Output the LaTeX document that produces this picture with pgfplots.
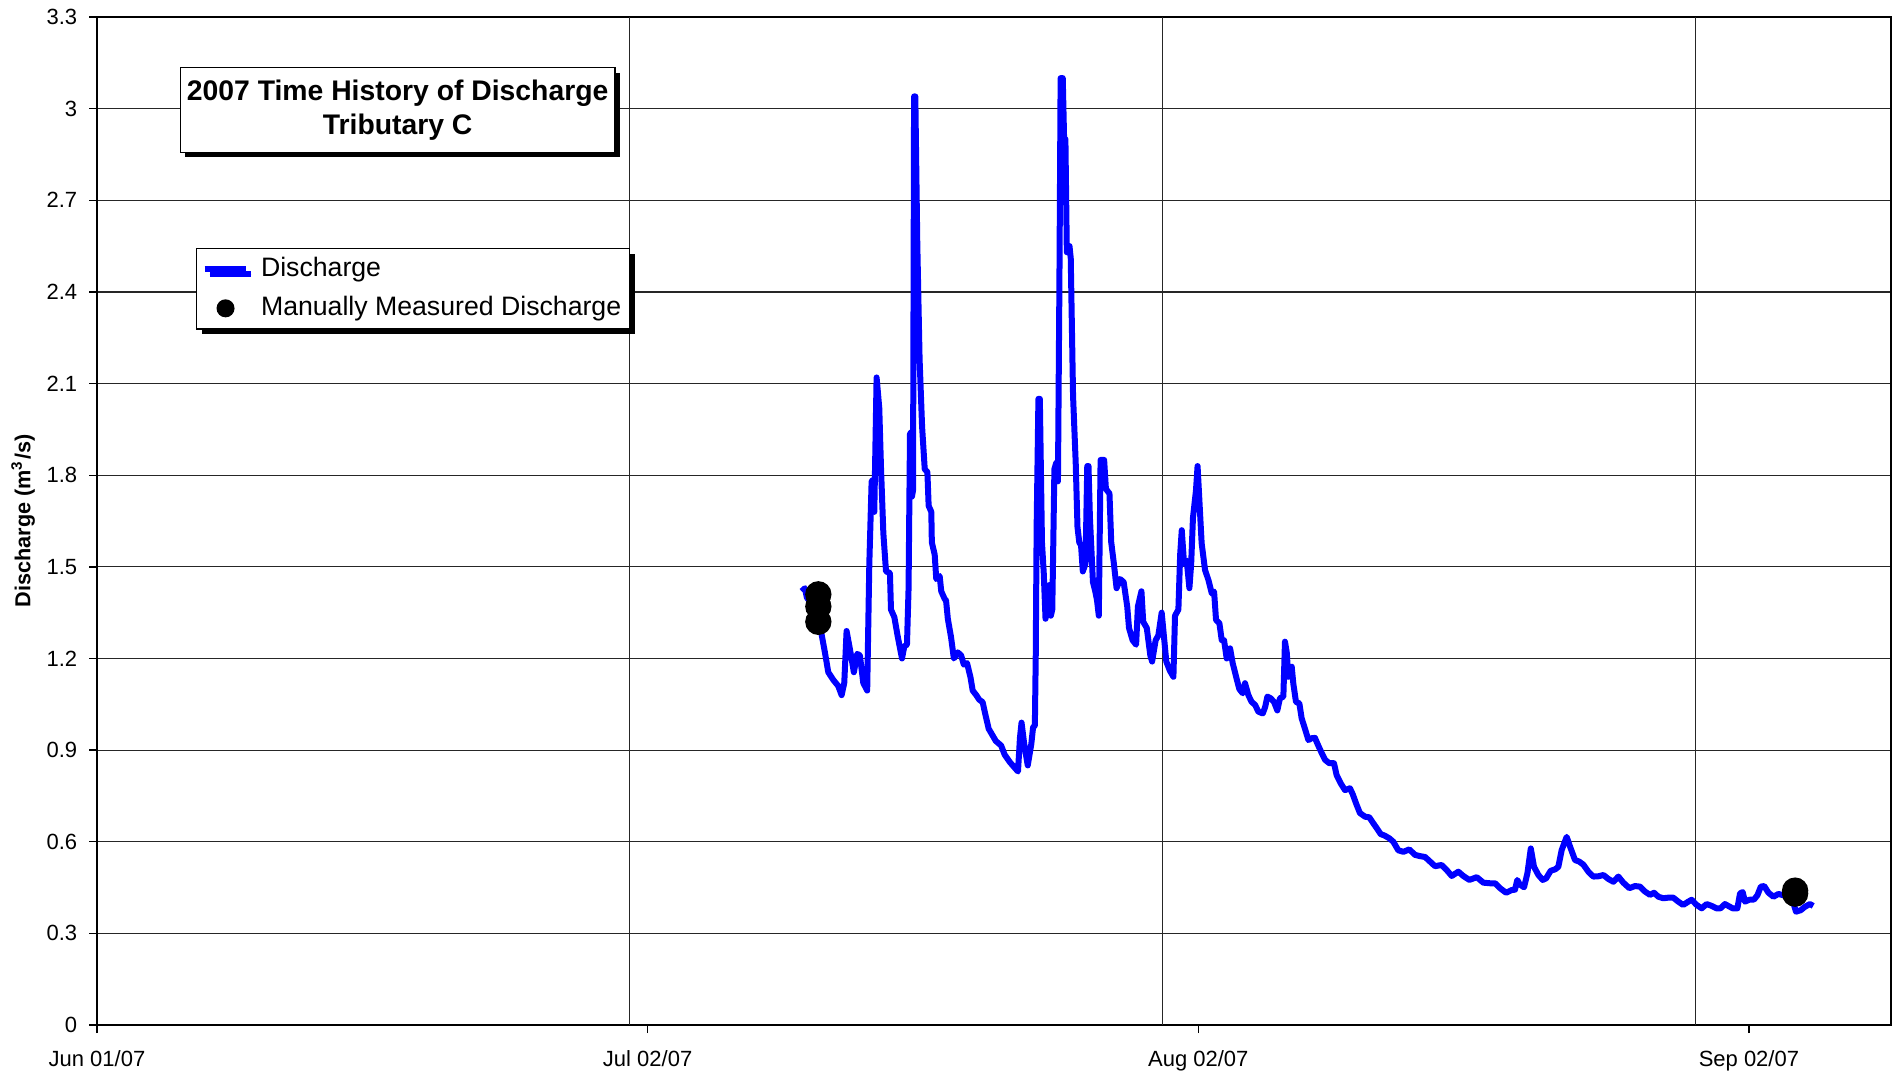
\documentclass[border=0pt]{standalone}
\usepackage{fontspec}
\setmainfont{Liberation Sans}
\usepackage{pgfplots}
\pgfplotsset{compat=1.18}
\usetikzlibrary{shadows}
\definecolor{dblue}{RGB}{0,0,255}
\pgfplotsset{
  lineleg/.style={legend image code/.code={\draw[##1] (0pt,0pt) -- (12.5pt,0pt); \path (15pt,0pt);}},
  dotleg/.style={legend image code/.code={\draw[mark repeat=2,mark phase=2,##1,mark size=2.5pt] plot coordinates {(0pt,0pt) (6.25pt,0pt) (12.5pt,0pt)}; \path (15pt,0pt);}},
}
\begin{document}
\begin{tikzpicture}
\begin{axis}[
  scale only axis, width=538.2pt, height=302.4pt,
  at={(0,0)}, anchor=south west,
  xmin=0, xmax=101, ymin=0, ymax=3.3,
  xtick={0,31,62,93},
  xticklabels={Jun 01/07, Jul 02/07, Aug 02/07, Sep 02/07},
  extra x ticks={30,60,90}, extra x tick labels={},
  extra x tick style={grid=major, major tick length=0pt},
  ytick={0,0.3,0.6,0.9,1.2,1.5,1.8,2.1,2.4,2.7,3,3.3},
  ymajorgrids,
  xtick pos=lower, ytick pos=left,
  tick align=outside, major tick length=2.4pt,
  grid style={black!85, line width=0.35pt},
  axis line style={black, line width=0.5pt},
  tick style={black, line width=0.4pt},
  tick label style={font=\fontsize{6.6}{7.9}\selectfont},
  xticklabel style={yshift=-1.6pt},
  /pgf/number format/assume math mode=true,
  ylabel={Discharge (m\textsuperscript{3}/s)},
  ylabel style={font=\bfseries\fontsize{6.5}{7.8}\selectfont, at={(axis description cs:-0.0412,0.5)}, anchor=center},
  legend style={at={(axis description cs:0.0552,0.771)}, anchor=north west,
    draw=black, fill=white, line width=0.4pt, font=\fontsize{8}{9.6}\selectfont,
    drop shadow={shadow xshift=1.5pt, shadow yshift=-1.5pt, fill=black, opacity=1},
    inner xsep=1.5pt, inner ysep=1.5pt, row sep=2.5pt,
    nodes={inner sep=1pt}},
  legend cell align=left,
]
\addplot[dblue, line width=1.8pt, line join=round, lineleg]
coordinates {
(39.67,1.42) (39.86,1.43) (39.96,1.40) (40.2,1.38) (40.5,1.35) (40.79,1.28) (40.98,1.22)
(41.17,1.155) (41.45,1.13) (41.73,1.11) (41.92,1.08) (42.07,1.12) (42.2,1.29) (42.39,1.23)
(42.61,1.155) (42.8,1.215) (42.95,1.21) (43.14,1.12) (43.36,1.095) (43.48,1.51) (43.61,1.78)
(43.7,1.785) (43.76,1.68) (43.89,2.12) (44.04,2.02) (44.14,1.82) (44.27,1.61) (44.42,1.485)
(44.64,1.48) (44.7,1.36) (44.89,1.335) (45.07,1.275) (45.32,1.20) (45.45,1.24) (45.6,1.245)
(45.69,1.43) (45.77,1.935) (45.83,1.94) (45.88,1.73) (45.94,1.75) (46.0,3.04) (46.07,3.04)
(46.18,2.56) (46.31,2.18) (46.45,1.96) (46.6,1.82) (46.75,1.81) (46.82,1.70) (46.97,1.68)
(47.0,1.58) (47.16,1.54) (47.25,1.46) (47.44,1.47) (47.53,1.42) (47.72,1.395) (47.8,1.39)
(47.9,1.33) (48.08,1.27) (48.24,1.20) (48.46,1.22) (48.65,1.21) (48.8,1.18) (48.98,1.185)
(49.17,1.14) (49.3,1.095) (49.5,1.08) (49.67,1.065) (49.86,1.057) (50.0,1.02) (50.2,0.97)
(50.4,0.95) (50.6,0.93) (50.9,0.915) (51.1,0.885) (51.4,0.86) (51.7,0.84) (51.85,0.83)
(51.96,0.94) (52.05,0.99) (52.2,0.92) (52.4,0.85) (52.6,0.92) (52.7,0.975) (52.8,0.98)
(52.85,1.21) (52.9,1.63) (53.0,2.05) (53.08,2.05) (53.2,1.58) (53.3,1.48) (53.4,1.33)
(53.5,1.39) (53.6,1.44) (53.7,1.34) (53.78,1.36) (53.82,1.51) (53.9,1.82) (54.0,1.84)
(54.1,1.78) (54.18,2.41) (54.25,3.10) (54.37,3.10) (54.45,2.89) (54.52,2.90) (54.6,2.53)
(54.75,2.55) (54.82,2.51) (54.95,2.06) (55.1,1.84) (55.2,1.63) (55.3,1.58) (55.4,1.57)
(55.5,1.485) (55.65,1.51) (55.75,1.83) (55.82,1.83) (55.9,1.66) (56.07,1.45) (56.2,1.42)
(56.3,1.39) (56.4,1.34) (56.5,1.85) (56.7,1.85) (56.8,1.755) (57.0,1.74) (57.1,1.58)
(57.25,1.51) (57.4,1.43) (57.6,1.46) (57.8,1.45) (58.0,1.37) (58.1,1.30) (58.3,1.26)
(58.5,1.245) (58.6,1.37) (58.8,1.42) (58.9,1.32) (59.1,1.30) (59.3,1.21) (59.4,1.19)
(59.6,1.26) (59.75,1.275) (59.94,1.35) (60.07,1.27) (60.2,1.19) (60.4,1.16) (60.6,1.14)
(60.69,1.34) (60.88,1.36) (60.98,1.54) (61.07,1.62) (61.2,1.51) (61.35,1.52) (61.5,1.43)
(61.6,1.51) (61.7,1.66) (61.87,1.75) (61.96,1.83) (62.19,1.577) (62.38,1.49) (62.57,1.457)
(62.76,1.413) (62.89,1.419) (63.0,1.326) (63.19,1.315) (63.32,1.26) (63.45,1.26) (63.6,1.20)
(63.79,1.233) (63.94,1.184) (64.13,1.14) (64.31,1.10) (64.5,1.086) (64.63,1.119) (64.82,1.08)
(65.0,1.058) (65.2,1.048) (65.38,1.026) (65.63,1.02) (65.76,1.04) (65.89,1.075) (66.07,1.07)
(66.26,1.058) (66.45,1.03) (66.6,1.07) (66.79,1.075) (66.88,1.255) (66.98,1.22) (67.07,1.14)
(67.26,1.173) (67.35,1.118) (67.5,1.058) (67.69,1.053) (67.82,1.004) (68.0,0.971) (68.2,0.933)
(68.39,0.939) (68.57,0.94) (68.7,0.922) (68.95,0.89) (69.14,0.868) (69.38,0.857) (69.64,0.857)
(69.79,0.818) (70.02,0.791) (70.26,0.769) (70.54,0.775) (70.7,0.755) (70.88,0.726) (71.1,0.694)
(71.39,0.682) (71.63,0.68) (71.86,0.66) (72.04,0.645) (72.27,0.625) (72.5,0.62) (72.76,0.611)
(72.98,0.60) (73.26,0.572) (73.55,0.567) (73.88,0.575) (74.2,0.557) (74.48,0.553) (74.77,0.55)
(75.05,0.535) (75.33,0.52) (75.7,0.524) (75.99,0.507) (76.27,0.488) (76.64,0.502) (76.92,0.488)
(77.26,0.475) (77.68,0.484) (78.05,0.466) (78.43,0.464) (78.71,0.464) (78.99,0.448) (79.33,0.433)
(79.65,0.442) (79.83,0.443) (79.96,0.475) (80.1,0.46) (80.34,0.451) (80.53,0.497) (80.72,0.578)
(80.9,0.518) (81.15,0.491) (81.39,0.475) (81.58,0.48) (81.84,0.505) (82.1,0.51) (82.27,0.518)
(82.46,0.573) (82.74,0.616) (82.93,0.584) (83.21,0.54) (83.45,0.535) (83.68,0.525) (83.96,0.502)
(84.24,0.486) (84.52,0.487) (84.81,0.491) (85.09,0.478) (85.37,0.469) (85.65,0.486) (85.93,0.466)
(86.27,0.448) (86.59,0.455) (86.87,0.453) (87.15,0.437) (87.43,0.426) (87.66,0.433) (87.9,0.42)
(88.18,0.415) (88.46,0.417) (88.74,0.417) (89.02,0.404) (89.3,0.393) (89.59,0.404) (89.77,0.41)
(90.06,0.393) (90.34,0.382) (90.62,0.396) (90.9,0.39) (91.18,0.382) (91.4,0.382) (91.65,0.396)
(91.9,0.388) (92.09,0.382) (92.35,0.382) (92.5,0.431) (92.65,0.435) (92.78,0.404) (93.02,0.41)
(93.29,0.411) (93.48,0.425) (93.67,0.453) (93.86,0.455) (94.1,0.433) (94.38,0.42) (94.66,0.429)
(94.94,0.425) (95.2,0.43) (95.4,0.42) (95.65,0.371) (95.92,0.376) (96.15,0.387) (96.43,0.396)
(96.62,0.39)
};
\addlegendentry{Discharge}
\addplot[only marks, mark=*, mark size=3.75pt, black, dotleg]
coordinates {(40.61,1.41) (40.61,1.37) (40.61,1.32) (95.6,0.44) (95.6,0.43)};
\addlegendentry{Manually Measured Discharge}
\node[draw=black, line width=0.4pt, fill=white,
  drop shadow={shadow xshift=1.5pt, shadow yshift=-1.5pt, fill=black, opacity=1},
  align=center, font=\bfseries\fontsize{8.5}{10.2}\selectfont,
  minimum width=130.4pt, minimum height=25.4pt, inner sep=1pt]
  at (axis description cs:0.1676,0.9077) {2007 Time History of Discharge\\Tributary C};
\end{axis}
\pgfresetboundingbox
\useasboundingbox (-29.1pt,-15pt) rectangle (540.3pt,307.5pt);
\end{tikzpicture}
\end{document}
